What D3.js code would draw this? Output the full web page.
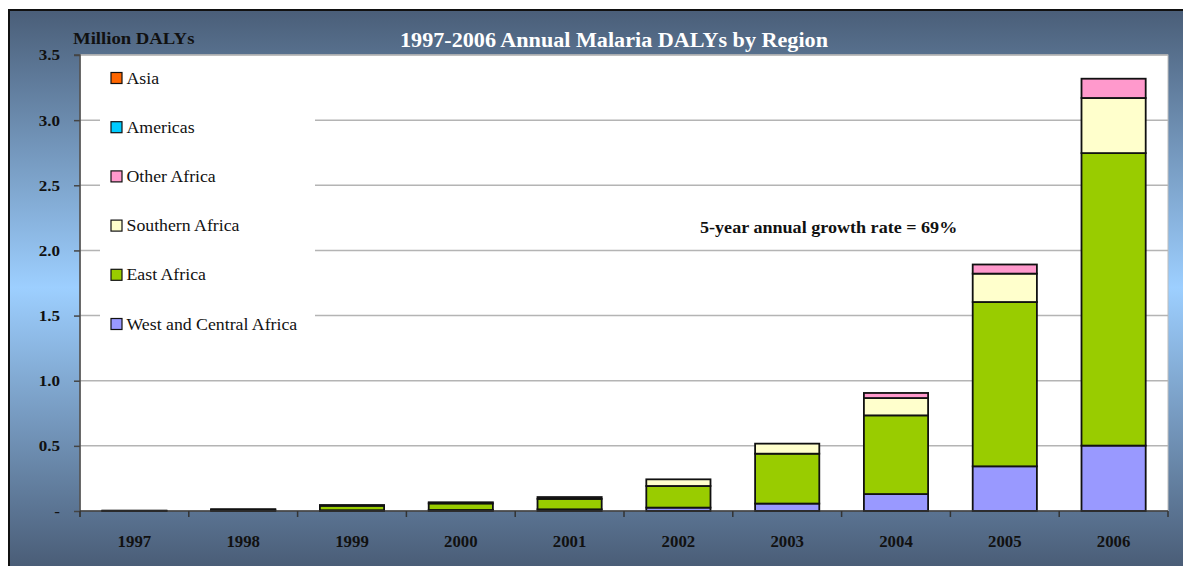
<!DOCTYPE html>
<html><head><meta charset="utf-8">
<script src="https://cdn.jsdelivr.net/npm/d3@7"></script>
<style>html,body{margin:0;padding:0;background:#fff;overflow:hidden}</style>
</head><body>
<svg id="chart" width="1183" height="566"></svg>
<script>
// ---- data ----
const years = ["1997","1998","1999","2000","2001","2002","2003","2004","2005","2006"];
const seriesNames = ["West and Central Africa","East Africa","Southern Africa","Other Africa","Americas","Asia"];
const seriesColors = ["#9999ff","#99cc00","#ffffcc","#ff99cc","#00ccff","#ff6600"];
const westCentral = [0.001,0.004,0.006,0.008,0.013,0.026,0.057,0.130,0.343,0.502];
const eastAfrica  = [0.002,0.008,0.034,0.050,0.080,0.166,0.383,0.604,1.261,2.245];
const southern    = [0.000,0.001,0.006,0.009,0.014,0.051,0.077,0.133,0.218,0.423];
const otherAfrica = [0,0,0,0,0,0,0,0.039,0.070,0.148];
const americas    = [0,0,0,0,0,0,0,0,0,0];
const asia        = [0,0,0,0,0,0,0,0,0,0];
const yTicks = [0,0.5,1.0,1.5,2.0,2.5,3.0,3.5];
const yTickLabels = ["-","0.5","1.0","1.5","2.0","2.5","3.0","3.5"];
const titleText = "1997-2006 Annual Malaria DALYs by Region";
const yTitle = "Million DALYs";
const note = "5-year annual growth rate = 69%";

const seriesValues = [westCentral, eastAfrica, southern, otherAfrica, americas, asia];
const table = years.map((y,i)=>{const o={year:y}; seriesNames.forEach((n,k)=>o[n]=seriesValues[k][i]); return o;});

const svg = d3.select("#chart");
const serif = "'Palatino Linotype','Book Antiqua',Palatino,'Liberation Serif',serif";
// widen Times-like glyphs toward Palatino proportions
function stretch(sel, f){ sel.each(function(){ const w=this.getComputedTextLength(); d3.select(this).attr("textLength",w*f).attr("lengthAdjust","spacingAndGlyphs"); }); }

// background gradient
const defs = svg.append("defs");
const g = defs.append("linearGradient").attr("id","bg").attr("x1",0).attr("y1",0).attr("x2",0).attr("y2",1);
g.append("stop").attr("offset","0%").attr("stop-color","#4a5e78");
g.append("stop").attr("offset","50%").attr("stop-color","#9dcfff");
g.append("stop").attr("offset","100%").attr("stop-color","#4a5d77");
svg.append("rect").attr("x",9).attr("y",10).attr("width",1200).attr("height",556)
  .attr("fill","url(#bg)");
svg.append("line").attr("x1",9).attr("x2",1183).attr("y1",10).attr("y2",10).attr("stroke","#111").attr("stroke-width",2);
svg.append("line").attr("x1",9).attr("x2",9).attr("y1",9).attr("y2",566).attr("stroke","#111").attr("stroke-width",2);

const m = {left:80, right:1168, top:55, bottom:511};
const x = d3.scaleBand().domain(years).range([m.left,m.right]).paddingInner(0.41).paddingOuter(0.205);
const y = d3.scaleLinear().domain([0,3.5]).range([m.bottom,m.top]);

// plot area
svg.append("rect").attr("x",m.left).attr("y",m.top).attr("width",m.right-m.left).attr("height",m.bottom-m.top)
  .attr("fill","#fff").attr("stroke","#bdbdbd").attr("stroke-width",1);

// gridlines
svg.append("g").selectAll("line").data(yTicks.filter(d=>d>0)).join("line")
  .attr("x1",m.left).attr("x2",m.right).attr("y1",d=>y(d)).attr("y2",d=>y(d))
  .attr("stroke","#b4b4b4").attr("stroke-width",1.5);

// legend background (covers gridlines)
svg.append("rect").attr("x",100).attr("y",57).attr("width",215).attr("height",281).attr("fill","#fff");

// stacked bars
const stack = d3.stack().keys(seriesNames)(table);
svg.append("g").selectAll("g").data(stack).join("g")
  .attr("fill",(d,i)=>seriesColors[i])
  .selectAll("rect").data(d=>d.filter(p=>p[1]-p[0]>0)).join("rect")
  .attr("x",d=>x(d.data.year)).attr("width",x.bandwidth())
  .attr("y",d=>y(d[1])).attr("height",d=>y(d[0])-y(d[1]))
  .attr("stroke","#111").attr("stroke-width",1.8);

// axes
const yAxis = d3.axisLeft(y).tickValues(yTicks).tickFormat((d,i)=>yTickLabels[i]).tickSize(6).tickPadding(14);
const ya = svg.append("g").attr("transform",`translate(${m.left},0)`).call(yAxis);
ya.select(".domain").attr("stroke","#444").attr("stroke-width",1.5).attr("d",`M-6,${m.top}H0V${m.bottom+6}`);
ya.selectAll(".tick line").attr("stroke","#444").attr("stroke-width",1.5);
ya.selectAll("text").attr("font-family",serif).attr("font-weight","bold").attr("font-size",15.5).attr("fill","#111");
stretch(ya.selectAll("text"),1.1);

const xAxis = d3.axisBottom(x).tickSize(0).tickPadding(25);
const xa = svg.append("g").attr("transform",`translate(0,${m.bottom})`).call(xAxis);
xa.select(".domain").attr("stroke","#333").attr("stroke-width",1.5).attr("d",`M${m.left},0H${m.right}`);
xa.selectAll("text").attr("font-family",serif).attr("font-weight","bold").attr("font-size",16).attr("fill","#111");
stretch(xa.selectAll("text"),1.05);
xa.selectAll(".sep").data(d3.range(years.length+1)).join("line").attr("class","sep")
  .attr("x1",i=>m.left+i*x.step()).attr("x2",i=>m.left+i*x.step()).attr("y1",0).attr("y2",6)
  .attr("stroke","#333").attr("stroke-width",1.5);

// legend (top to bottom: Asia ... West)
const legOrder = seriesNames.map((n,i)=>({name:n,color:seriesColors[i]})).reverse();
const leg = svg.append("g").selectAll("g").data(legOrder).join("g")
  .attr("transform",(d,i)=>`translate(111,${78+i*49.2})`);
leg.append("rect").attr("x",0).attr("y",-5.5).attr("width",11).attr("height",11)
  .attr("fill",d=>d.color).attr("stroke","#111").attr("stroke-width",1.2);
const lt = leg.append("text").attr("x",15.5).attr("dy","0.35em").text(d=>d.name)
  .attr("font-family",serif).attr("font-size",16).attr("fill","#111");
stretch(lt,1.11);

// titles
const tt = svg.append("text").attr("x",614).attr("y",40).attr("dy","0.35em").attr("text-anchor","middle")
  .attr("font-family",serif).attr("font-weight","bold").attr("font-size",20.5).attr("fill","#fff").text(titleText);
stretch(tt,1.08);
const yt = svg.append("text").attr("x",73).attr("y",38).attr("dy","0.35em")
  .attr("font-family",serif).attr("font-weight","bold").attr("font-size",17).attr("fill","#111").text(yTitle);
stretch(yt,1.1);
const nt = svg.append("text").attr("x",700).attr("y",227).attr("dy","0.35em")
  .attr("font-family",serif).attr("font-weight","bold").attr("font-size",16).attr("fill","#111").text(note);
stretch(nt,1.13);
</script>
</body></html>
